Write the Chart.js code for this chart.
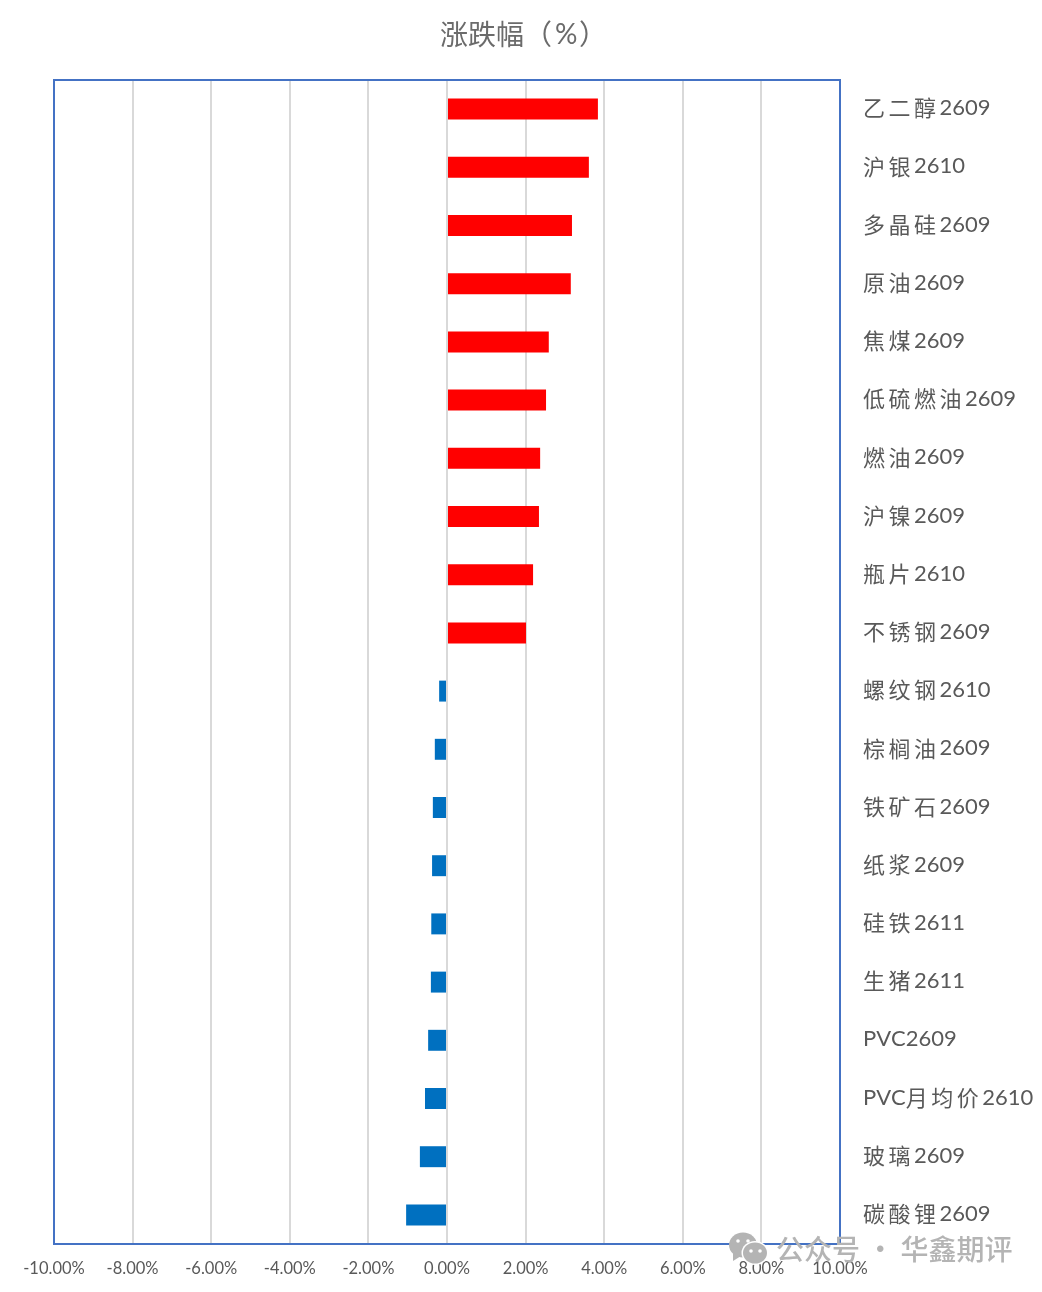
<!DOCTYPE html>
<html>
<head>
<meta charset="utf-8">
<style>
  html, body { margin: 0; padding: 0; background: #fff; }
  canvas { display: block; }
</style>
<script src="https://cdn.jsdelivr.net/npm/chart.js@4"></script>
</head>
<body>
<canvas id="chart" width="1042" height="1292"></canvas>
<script>
const categories = ["乙二醇2609","沪银2610","多晶硅2609","原油2609","焦煤2609","低硫燃油2609","燃油2609","沪镍2609","瓶片2610","不锈钢2609","螺纹钢2610","棕榈油2609","铁矿石2609","纸浆2609","硅铁2611","生猪2611","PVC2609","PVC月均价2610","玻璃2609","碳酸锂2609"];
const changes = [3.84,3.61,3.18,3.15,2.59,2.52,2.37,2.34,2.19,2.01,-0.2,-0.31,-0.36,-0.38,-0.4,-0.41,-0.48,-0.56,-0.69,-1.04];
const xTicks = [-10,-8,-6,-4,-2,0,2,4,6,8,10];
const titleParts = ["涨跌幅（", "%", "）"];
const watermarkText = "公众号 · 华鑫期评";
const upColor = "#ff0000";
const downColor = "#0070c0";

// plot frame position in the page
const frame = { left: 54, top: 80, right: 840, bottom: 1244 };

const cjkFont = "22px 'Noto Sans CJK SC'";
const latinFont = "22px Lato";

// category labels: CJK chars are spaced wider than the digits
function drawLabel(ctx, text, x, y) {
  for (const ch of text) {
    const isCjk = ch.charCodeAt(0) > 255;
    ctx.font = isCjk ? cjkFont : latinFont;
    ctx.fillText(ch, x, y);
    x += ctx.measureText(ch).width + (isCjk ? 3.5 : 0);
  }
}

function drawTitle(ctx) {
  ctx.fillStyle = "#6b6b6b";
  ctx.textAlign = "left";
  ctx.textBaseline = "middle";
  ctx.font = "28px 'Noto Sans CJK SC'";
  ctx.fillText(titleParts[0], 440, 34);
  ctx.font = "28px Lato";
  ctx.fillText(titleParts[1], 555, 35);
  ctx.font = "28px 'Noto Sans CJK SC'";
  ctx.fillText(titleParts[2], 579, 34);
}

function drawWatermark(ctx) {
  // left bubble with tail
  ctx.fillStyle = "#b4b4b4";
  ctx.beginPath();
  ctx.ellipse(743, 1245, 14, 12.5, 0, 0, Math.PI * 2);
  ctx.fill();
  ctx.beginPath();
  ctx.moveTo(733, 1253);
  ctx.lineTo(733, 1261);
  ctx.lineTo(741, 1256);
  ctx.fill();
  // right bubble with a white edge
  ctx.fillStyle = "#ffffff";
  ctx.beginPath();
  ctx.ellipse(755, 1253, 13.5, 12, 0, 0, Math.PI * 2);
  ctx.fill();
  ctx.fillStyle = "#b4b4b4";
  ctx.beginPath();
  ctx.ellipse(755, 1253, 12, 10.5, 0, 0, Math.PI * 2);
  ctx.fill();
  // eyes
  ctx.fillStyle = "#ffffff";
  [[738, 1241], [748, 1241], [751, 1251], [760, 1251]].forEach(([ex, ey]) => {
    ctx.beginPath();
    ctx.arc(ex, ey, 1.8, 0, Math.PI * 2);
    ctx.fill();
  });
  ctx.fillStyle = "#b4b4b4";
  ctx.font = "500 28px 'Noto Sans CJK SC'";
  ctx.textAlign = "left";
  ctx.textBaseline = "middle";
  ctx.fillText(watermarkText, 776, 1249);
}

const overlayPlugin = {
  id: "overlayPlugin",
  afterDatasetsDraw(chart) {
    const { ctx, chartArea: a, scales } = chart;
    ctx.save();
    // zero line sits on top of the bars
    ctx.strokeStyle = "#d9d9d9";
    ctx.lineWidth = 2;
    const zero = scales.x.getPixelForValue(0);
    ctx.beginPath();
    ctx.moveTo(zero, a.top);
    ctx.lineTo(zero, a.bottom);
    ctx.stroke();
    ctx.strokeStyle = "#4472c4";
    ctx.lineWidth = 2;
    ctx.strokeRect(a.left, a.top, a.right - a.left, a.bottom - a.top);
    drawTitle(ctx);
    // category labels
    ctx.fillStyle = "#595959";
    ctx.textBaseline = "middle";
    categories.forEach((c, i) => {
      drawLabel(ctx, c, 863, scales.y.getPixelForValue(i) - 1);
    });
    ctx.restore();
  },
  afterDraw(chart) {
    chart.ctx.save();
    drawWatermark(chart.ctx);
    chart.ctx.restore();
  }
};

new Chart(document.getElementById("chart"), {
  type: "bar",
  data: {
    labels: categories,
    datasets: [{
      data: changes,
      backgroundColor: changes.map(v => v >= 0 ? upColor : downColor),
      borderWidth: 0,
      categoryPercentage: 0.36,
      barPercentage: 1
    }]
  },
  options: {
    indexAxis: "y",
    responsive: false,
    animation: false,
    layout: { padding: { left: frame.left, top: frame.top, right: 0, bottom: 0 } },
    plugins: {
      legend: { display: false },
      tooltip: { enabled: false },
      title: { display: false }
    },
    scales: {
      x: {
        type: "linear",
        min: -10,
        max: 10,
        afterBuildTicks(axis) { axis.ticks = xTicks.map(v => ({ value: v })); },
        afterFit(axis) { axis.height = 1292 - frame.bottom; },
        grid: { color: "#d9d9d9", lineWidth: 2, drawTicks: false },
        border: { display: false },
        ticks: {
          color: "#595959",
          font: { family: "Lato", size: 16.5 },
          padding: 15,
          maxRotation: 0,
          autoSkip: false,
          callback: v => v.toFixed(2) + "%"
        }
      },
      y: {
        position: "right",
        afterFit(axis) { axis.width = 1042 - frame.right; },
        grid: { display: false, drawTicks: false },
        border: { display: false },
        ticks: { display: false }
      }
    }
  },
  plugins: [overlayPlugin]
});
</script>
</body>
</html>
